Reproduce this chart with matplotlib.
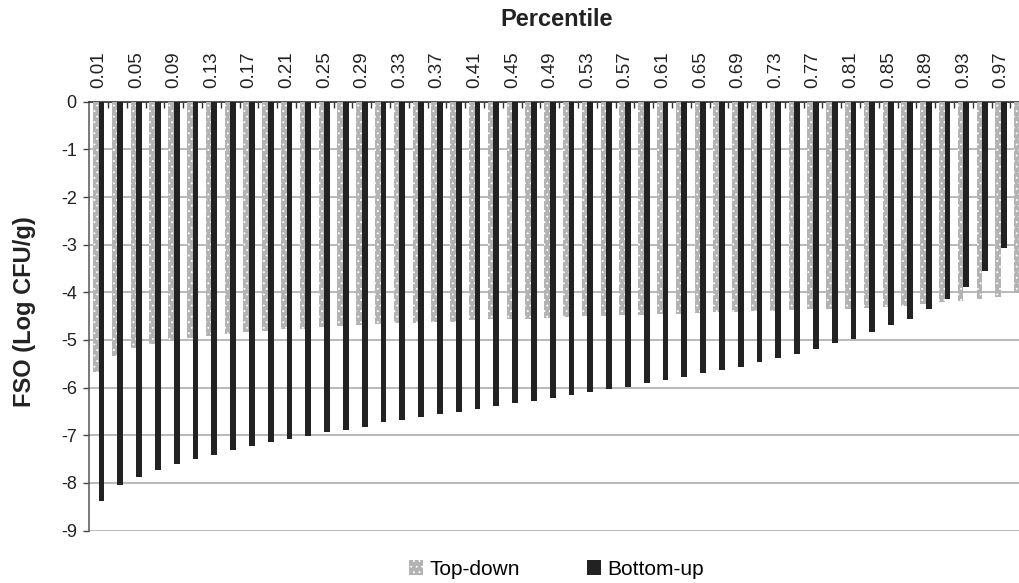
import numpy as np
from matplotlib import pyplot as plt
from matplotlib.patches import Patch

plt.rcParams['font.family'] = ['Liberation Sans', 'DejaVu Sans']
plt.rcParams['hatch.linewidth'] = 0.6

# 百分位 0.01, 0.03, ..., 0.99
percentile = [round(0.01 + 0.02 * i, 2) for i in range(50)]

top_down = [-5.68, -5.33, -5.16, -5.09, -5.02, -4.95, -4.92, -4.87, -4.83, -4.81,
            -4.78, -4.76, -4.73, -4.71, -4.69, -4.67, -4.64, -4.64, -4.62, -4.62,
            -4.59, -4.57, -4.55, -4.55, -4.53, -4.52, -4.50, -4.50, -4.48, -4.47,
            -4.45, -4.45, -4.43, -4.41, -4.41, -4.39, -4.39, -4.38, -4.36, -4.34,
            -4.34, -4.32, -4.30, -4.29, -4.25, -4.20, -4.19, -4.15, -4.10, -4.02]

bottom_up = [-8.37, -8.05, -7.87, -7.73, -7.60, -7.50, -7.41, -7.31, -7.22, -7.15,
             -7.08, -7.01, -6.94, -6.88, -6.82, -6.73, -6.68, -6.62, -6.56, -6.51,
             -6.45, -6.39, -6.33, -6.28, -6.22, -6.16, -6.10, -6.03, -5.98, -5.91,
             -5.84, -5.77, -5.70, -5.63, -5.56, -5.47, -5.38, -5.30, -5.18, -5.07,
             -4.97, -4.83, -4.69, -4.55, -4.34, -4.14, -3.88, -3.56, -3.07, -2.20]

y_ticks = list(range(-9, 1))

GRAY = '#b3b3b3'
BLACK = '#222222'

fig = plt.figure(figsize=(10.19, 5.83), dpi=100)
# 右边界故意超出画布一点，最后一组柱子被截掉
ax = fig.add_axes([0.0876, 0.090, 0.9225, 0.7355])

x = np.arange(len(percentile))
w = 0.3
ax.bar(x - w / 2, top_down, w, color=GRAY, edgecolor='white', linewidth=0,
       hatch='...', zorder=3)
ax.bar(x + w / 2, bottom_up, w, color=BLACK, linewidth=0, zorder=3)

ax.set_xlim(-0.5, len(percentile) - 0.5)
ax.set_ylim(-9, 0)

# 网格线
ax.set_yticks(y_ticks)
ax.set_yticklabels([str(v) for v in y_ticks], fontsize=13, color='#222222')
ax.yaxis.grid(True, color='#a6a6a6', linewidth=1.1, zorder=0)
ax.tick_params(axis='y', direction='out', length=4, width=1, color='#444444', pad=5)

# 横轴放在上面，每隔一个写标签
ax.xaxis.tick_top()
ax.set_xticks(x[::2])
ax.set_xticklabels([f'{p:.2f}' for p in percentile[::2]], rotation=90,
                   fontsize=13.5, color='#222222')
ax.tick_params(axis='x', which='major', length=0, pad=10)
ax.set_xticks(x[:-1] + 0.5, minor=True)
ax.tick_params(axis='x', which='minor', top=True, bottom=False,
               direction='in', length=4, width=1, color='#333333')

for s in ['right', 'bottom']:
    ax.spines[s].set_visible(False)
ax.spines['top'].set_color('#333333')
ax.spines['top'].set_linewidth(1.2)
ax.spines['left'].set_color('#555555')
ax.spines['left'].set_linewidth(1.1)

fig.text(0.546, 0.967, 'Percentile', ha='center', va='center',
         fontsize=17, fontweight='bold', color='#222222')
fig.text(0.024, 0.465, 'FSO (Log CFU/g)', ha='center', va='center', rotation=90,
         fontsize=17, fontweight='bold', color='#222222')

handles = [Patch(facecolor=GRAY, edgecolor='white', linewidth=0, hatch='...'),
           Patch(facecolor=BLACK, linewidth=0)]
fig.legend(handles, ['Top-down', 'Bottom-up'], loc='center', ncol=2,
           bbox_to_anchor=(0.546, 0.024), frameon=False, fontsize=15,
           handlelength=0.7, handleheight=0.7, handletextpad=0.3,
           columnspacing=3.2)

plt.savefig('out.png', dpi=100)
